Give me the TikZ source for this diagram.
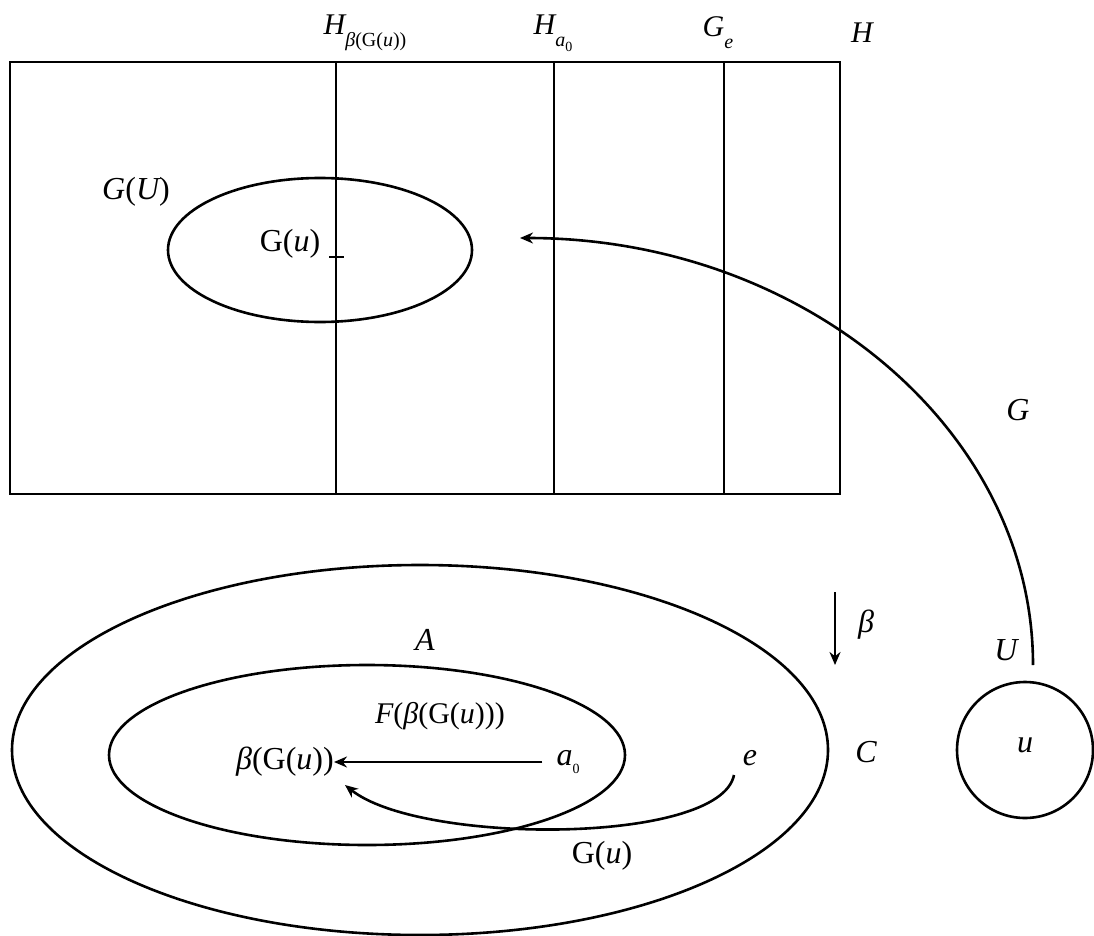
\documentclass[tikz,border=0pt]{standalone}
\usepackage{fontspec}
\setmainfont{Liberation Serif}
\usetikzlibrary{arrows.meta}
\newcommand{\mysub}[1]{\raisebox{-0.4em}{\fontsize{20}{24}\selectfont #1}}
\newcommand{\tinysub}[1]{\raisebox{-0.25em}{\fontsize{14}{16}\selectfont\upshape #1}}
\tikzset{
  lbl/.style={font=\fontsize{32}{38}\selectfont\itshape, inner sep=0pt},
  toplbl/.style={font=\fontsize{30}{36}\selectfont\itshape, inner sep=0pt},
  ln/.style={line width=2.6pt},
  arr/.style={line width=2.6pt,-{Stealth[length=13pt,width=11pt]}},
}
\begin{document}
\begin{tikzpicture}[x=1pt,y=-1pt]
\useasboundingbox (0,0) rectangle (1094,936);
% top rectangle
\coordinate (r1) at (10,62);
\coordinate (r2) at (840,494);
\draw[ln] (r1) rectangle (r2);
\coordinate (v1t) at (336,62); \coordinate (v1b) at (336,494);
\coordinate (v2t) at (554,62); \coordinate (v2b) at (554,494);
\coordinate (v3t) at (724,62); \coordinate (v3b) at (724,494);
\draw[ln] (v1t) -- (v1b);
\draw[ln] (v2t) -- (v2b);
\draw[ln] (v3t) -- (v3b);
\node[toplbl] (hb) at (365,33) {H\mysub{β\upshape(G(\itshape u\upshape))}};
\node[toplbl] (ha) at (553,33) {H\mysub{a\tinysub{0}}};
\node[toplbl] (ge) at (718,33) {G\mysub{e}};
\node[toplbl] (h) at (862,33) {H};
% G(U) ellipse
\draw[ln] (320,250) ellipse [x radius=152pt, y radius=72pt];
\node[lbl] (gU) at (136,192) {G\upshape(\itshape U\upshape)};
\node[lbl] (gu1) at (290,244) {\upshape G(\itshape u\upshape)};
\coordinate (t1) at (329,257); \coordinate (t2) at (344,257);
\draw[line width=1.8pt] (t1) -- (t2);
% big curve G (quarter ellipse)
\node[draw, circle, line width=2.6pt, minimum size=136pt, inner sep=0pt] (uc) at (1025,750) {};
\node[lbl] (u) at (1025,745) {u};
\coordinate (cs) at (1033,665);
\coordinate (ce) at (520,238);
\draw[arr] (cs) .. controls (1033,429) and (803,238) .. (ce);
\node[lbl] (G) at (1018,410) {G};
\node[lbl] (U) at (1006,650) {U};
% bottom ellipses
\draw[ln] (420,750) ellipse [x radius=408pt, y radius=185pt];
\draw[ln] (367,755) ellipse [x radius=258pt, y radius=90pt];
\node[lbl] (A) at (425,640) {A};
\node[lbl] (C) at (866,752) {C};
\coordinate (b1) at (835,592); \coordinate (b2) at (835,665);
\draw[arr] (b1) -- (b2);
\node[lbl] (beta) at (866,625) {β};
\node[lbl, anchor=east] (bg) at (334,762) {β\upshape(G(\itshape u\upshape))};
\node[lbl] (a0) at (568,762) {a\tinysub{0}};
\draw[arr] (a0.west) ++(-14pt,0) -- (bg.east);
\node[toplbl] (F) at (440,716) {F\upshape(\itshape β\upshape(G(\itshape u\upshape)))};
\node[lbl] (e) at (750,758) {e};
\coordinate (es) at (734,775);
\coordinate (ee) at (345,785);
\draw[arr] (es) .. controls (720,845) and (420,845) .. (ee);
\node[lbl] (gu2) at (602,856) {\upshape G(\itshape u\upshape)};
\end{tikzpicture}
\end{document}
